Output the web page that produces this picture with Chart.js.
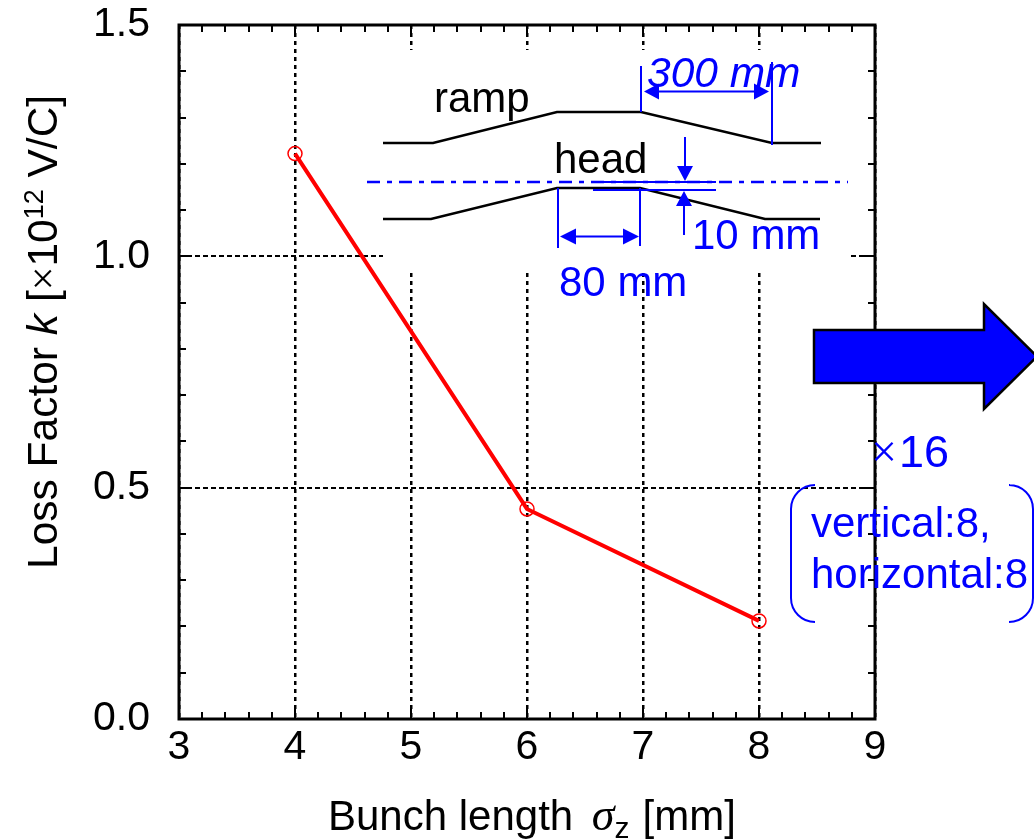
<!DOCTYPE html>
<html>
<head>
<meta charset="utf-8">
<title>Loss factor vs bunch length</title>
<script src="https://cdn.jsdelivr.net/npm/chart.js@4"></script>
<style>
    html, body { margin: 0; padding: 0; background: #fff; overflow: hidden; }
    canvas { display: block; }
</style>
</head>
<body>
<canvas id="lossChart" width="1034" height="839"></canvas>
<script>
// Values
const bunchLength = [4, 6, 8];
const lossFactor = [1.222, 0.454, 0.212];
const xTickValues = [3, 4, 5, 6, 7, 8, 9];
const yTickValues = [0, 0.5, 1, 1.5];
const xMinorStep = 0.2;
const yMinorStep = 0.1;

const SANS = '"Liberation Sans", Arial, sans-serif';
const SERIF = '"Liberation Serif", "Times New Roman", serif';
const BLUE = '#0000ff';

function line(ctx, pts) {
    ctx.beginPath();
    pts.forEach((p, i) => i ? ctx.lineTo(p[0], p[1]) : ctx.moveTo(p[0], p[1]));
    ctx.stroke();
}

function arrowHead(ctx, tipX, tipY, dx, dy, len, half) {
    ctx.beginPath();
    ctx.moveTo(tipX, tipY);
    ctx.lineTo(tipX - dx * len - dy * half, tipY - dy * len - dx * half);
    ctx.lineTo(tipX - dx * len + dy * half, tipY - dy * len + dx * half);
    ctx.closePath();
    ctx.fill();
}

// text made of several fonts, drawn one after the other
function drawRuns(ctx, runs, x, y) {
    ctx.textAlign = 'left';
    ctx.textBaseline = 'alphabetic';
    runs.forEach(r => {
        ctx.font = r.font;
        ctx.fillText(r.text, x, y + (r.dy || 0));
        x += ctx.measureText(r.text).width + (r.gap || 0);
    });
}

function text(ctx, str, x, y, font, color) {
    ctx.font = font;
    ctx.fillStyle = color;
    ctx.textAlign = 'left';
    ctx.textBaseline = 'alphabetic';
    ctx.fillText(str, x, y);
}

// White box behind the waveguide sketch, hides the grid there
const gridMask = {
    id: 'gridMask',
    beforeDatasetsDraw(chart) {
        const ctx = chart.ctx;
        ctx.save();
        ctx.fillStyle = '#fff';
        ctx.fillRect(383, 50, 468, 223);
        ctx.restore();
    }
};

// Inward ticks on all four sides and the heavy frame
const frame = {
    id: 'frame',
    afterDatasetsDraw(chart) {
        const ctx = chart.ctx;
        const a = chart.chartArea;
        const xs = chart.scales.x;
        const ys = chart.scales.y;
        ctx.save();
        ctx.strokeStyle = '#000';
        ctx.lineWidth = 2;
        for (let i = 0; i <= Math.round((xs.max - xs.min) / xMinorStep); i++) {
            const v = xs.min + i * xMinorStep;
            const px = Math.round(xs.getPixelForValue(v));
            const len = i % 5 === 0 ? 12 : 7;
            line(ctx, [[px, a.bottom], [px, a.bottom - len]]);
            line(ctx, [[px, a.top], [px, a.top + len]]);
        }
        for (let i = 0; i <= Math.round((ys.max - ys.min) / yMinorStep); i++) {
            const v = ys.min + i * yMinorStep;
            const py = Math.round(ys.getPixelForValue(v));
            const len = i % 5 === 0 ? 12 : 7;
            line(ctx, [[a.left, py], [a.left + len, py]]);
            line(ctx, [[a.right, py], [a.right - len, py]]);
        }
        ctx.lineWidth = 3;
        ctx.strokeRect(a.left, a.top, a.right - a.left, a.bottom - a.top);
        ctx.restore();
    }
};

// Axis titles, sketch and notes
const notes = {
    id: 'notes',
    afterDraw(chart) {
        const ctx = chart.ctx;
        ctx.save();

        // axis titles
        ctx.fillStyle = '#000';
        drawRuns(ctx, [
            { text: 'Bunch length ', font: '42px ' + SANS, gap: 7 },
            { text: '\u03c3', font: 'italic 46px ' + SERIF },
            { text: 'z', font: '30px ' + SANS, dy: 8, gap: 13 },
            { text: '[mm]', font: '42px ' + SANS }
        ], 328, 830);
        ctx.save();
        ctx.translate(57, 569);
        ctx.rotate(-Math.PI / 2);
        drawRuns(ctx, [
            { text: 'Loss Factor ', font: '42.5px ' + SANS },
            { text: 'k', font: 'italic 42.5px ' + SANS },
            { text: ' [', font: '42.5px ' + SANS },
            { text: '\u00d7', font: '42px ' + SERIF },
            { text: '10', font: '42.5px ' + SANS },
            { text: '12', font: '27px ' + SANS, dy: -14 },
            { text: ' V/C]', font: '42.5px ' + SANS }
        ], 0, 0);
        ctx.restore();

        // waveguide walls
        ctx.strokeStyle = '#000';
        ctx.lineWidth = 2.5;
        line(ctx, [[383, 143], [433, 143], [557, 112], [641, 112], [772, 143], [821, 143]]);
        line(ctx, [[383, 219], [431, 219], [557, 188], [640, 188], [765, 219], [820, 219]]);
        text(ctx, 'ramp', 434, 112, '42px ' + SANS, '#000');
        text(ctx, 'head', 554, 173, '42px ' + SANS, '#000');

        // beam axis
        ctx.strokeStyle = BLUE;
        ctx.fillStyle = BLUE;
        ctx.lineWidth = 2.5;
        ctx.setLineDash([13, 7, 5, 7]);
        line(ctx, [[367, 182], [848, 182]]);
        ctx.setLineDash([]);
        ctx.lineWidth = 2;

        // 10 mm gap
        line(ctx, [[593, 182], [716, 182]]);
        line(ctx, [[593, 190], [716, 190]]);
        line(ctx, [[685, 137], [685, 170]]);
        arrowHead(ctx, 685, 181, 0, 1, 15, 8);
        line(ctx, [[684, 205], [684, 235]]);
        arrowHead(ctx, 684, 191, 0, -1, 15, 8);
        text(ctx, '10 mm', 692, 249, '42px ' + SANS, BLUE);

        // 80 mm head
        line(ctx, [[558, 188], [558, 248]]);
        line(ctx, [[640, 188], [640, 246]]);
        line(ctx, [[570, 236.5], [630, 236.5]]);
        arrowHead(ctx, 560, 236.5, -1, 0, 16, 8);
        arrowHead(ctx, 639, 236.5, 1, 0, 16, 8);
        text(ctx, '80 mm', 559, 296, '42px ' + SANS, BLUE);

        // 300 mm ramp
        line(ctx, [[641, 66], [641, 112]]);
        line(ctx, [[772, 62], [772, 145]]);
        line(ctx, [[655, 91.5], [760, 91.5]]);
        arrowHead(ctx, 644, 91.5, -1, 0, 15, 8);
        arrowHead(ctx, 769, 91.5, 1, 0, 15, 8);
        text(ctx, '300 mm', 647, 87, 'italic 42.5px ' + SANS, BLUE);

        // block arrow
        ctx.fillStyle = BLUE;
        ctx.strokeStyle = '#000';
        ctx.lineWidth = 2.5;
        ctx.beginPath();
        ctx.moveTo(814, 330);
        ctx.lineTo(984, 330);
        ctx.lineTo(984, 304);
        ctx.lineTo(1037, 356.5);
        ctx.lineTo(984, 409);
        ctx.lineTo(984, 383);
        ctx.lineTo(814, 383);
        ctx.closePath();
        ctx.fill();
        ctx.stroke();

        // multiplicity note
        ctx.fillStyle = BLUE;
        drawRuns(ctx, [
            { text: '\u00d7', font: '46px ' + SERIF, gap: 2 },
            { text: '16', font: '45px ' + SANS }
        ], 871, 467);
        text(ctx, 'vertical:8,', 811, 537, '42px ' + SANS, BLUE);
        text(ctx, 'horizontal:8', 811, 588, '42px ' + SANS, BLUE);

        // rounded brackets
        ctx.strokeStyle = BLUE;
        ctx.lineWidth = 2;
        ctx.beginPath();
        ctx.moveTo(815, 485);
        ctx.arcTo(791, 485, 791, 510, 24);
        ctx.lineTo(791, 597);
        ctx.arcTo(791, 622, 815, 622, 24);
        ctx.stroke();
        ctx.beginPath();
        ctx.moveTo(1010, 485);
        ctx.arcTo(1033, 485, 1033, 510, 24);
        ctx.lineTo(1033, 597);
        ctx.arcTo(1033, 622, 1010, 622, 24);
        ctx.stroke();

        ctx.restore();
    }
};

new Chart(document.getElementById('lossChart'), {
    type: 'line',
    data: {
        datasets: [{
            data: bunchLength.map((x, i) => ({ x: x, y: lossFactor[i] })),
            borderColor: '#ff0000',
            borderWidth: 4,
            tension: 0,
            fill: false,
            pointRadius: 7,
            pointBorderWidth: 1.5,
            pointBorderColor: '#ff0000',
            pointBackgroundColor: 'rgba(0,0,0,0)'
        }]
    },
    options: {
        responsive: false,
        animation: false,
        layout: { autoPadding: false, padding: { left: 0, top: 25, right: 159, bottom: 0 } },
        plugins: { legend: { display: false }, tooltip: { enabled: false } },
        scales: {
            x: {
                type: 'linear',
                min: 3,
                max: 9,
                afterBuildTicks: scale => { scale.ticks = xTickValues.map(v => ({ value: v })); },
                afterFit: scale => {
                    scale.height = 120;
                    scale.paddingLeft = 0;
                    scale.paddingRight = 0;
                },
                grid: { color: '#000', lineWidth: 2.5, drawTicks: false },
                border: { display: false, dash: [4, 4] },
                ticks: {
                    color: '#000',
                    padding: 4,
                    maxRotation: 0,
                    autoSkip: false,
                    font: { family: 'Liberation Sans', size: 41 }
                }
            },
            y: {
                min: 0,
                max: 1.5,
                afterBuildTicks: scale => { scale.ticks = yTickValues.map(v => ({ value: v })); },
                afterFit: scale => {
                    scale.width = 179;
                    scale.paddingTop = 0;
                    scale.paddingBottom = 0;
                },
                grid: { color: '#000', lineWidth: 2, drawTicks: false },
                border: { display: false, dash: [5, 3] },
                ticks: {
                    color: '#000',
                    padding: 29,
                    autoSkip: false,
                    font: { family: 'Liberation Sans', size: 41 },
                    callback: v => v.toFixed(1)
                }
            }
        }
    },
    plugins: [gridMask, frame, notes]
});
</script>
</body>
</html>
